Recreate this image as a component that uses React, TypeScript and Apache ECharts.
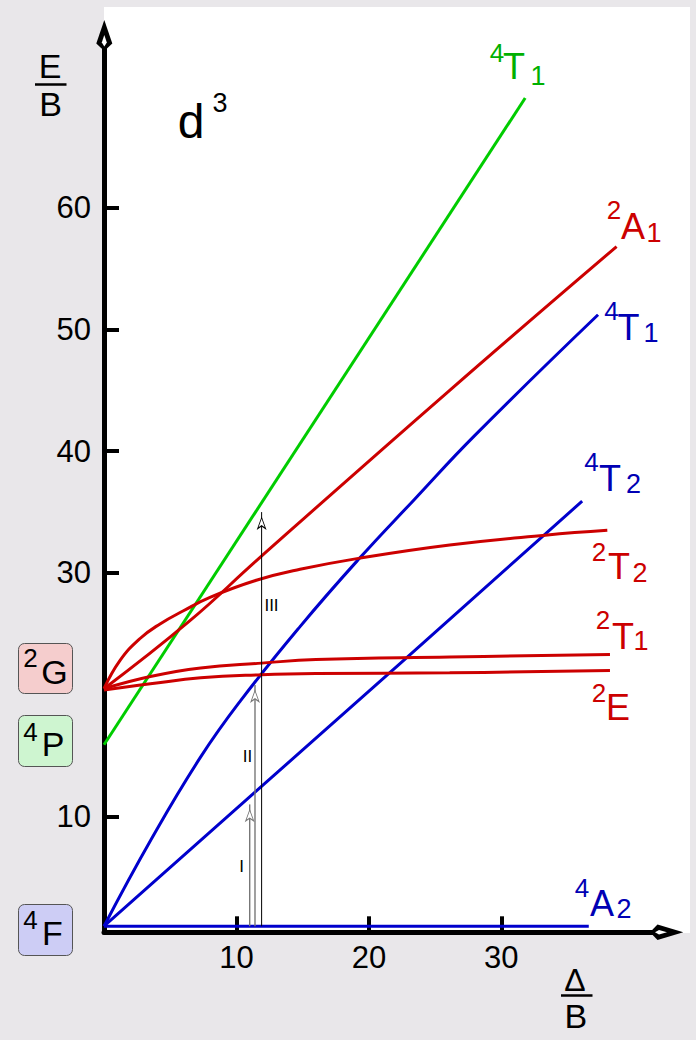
import React, { useEffect, useRef } from "react";
import * as echarts from "echarts";

// ---- axis ticks ----
const xTickValues = [10, 20, 30];
const yTickValues = [10, 30, 40, 50, 60];

// ---- Tanabe–Sugano d3 curves (Δ/B, E/B) ----
const t1P = [[0, 15.9], [31.8, 69.0]]; // 4T1 (P) green
const a1 = [[0, 20.5], [6.4, 26.0], [11.7, 31.2], [26.1, 45.0], [38.7, 56.8]]; // 2A1
const t1F = [[0, 1.0], [3.6, 8.2], [7.3, 14.9], [10.3, 19.5], [14.8, 25.6], [19.2, 31.1], [23.4, 36.0], [28.0, 41.3], [37.3, 51.2]]; // 4T1 (F)
const t2Q = [[0, 1.0], [22.9, 23.1], [36.1, 35.9]]; // 4T2
const t2D = [[0, 20.5], [1.2, 22.8], [2.7, 24.6], [4.2, 25.8], [6.0, 26.9], [8.0, 28.0], [11.5, 29.4], [14.8, 30.3], [19.2, 31.2], [26.1, 32.3], [33.3, 33.1], [38.0, 33.5]]; // 2T2
const t1D = [[0, 20.5], [3.5, 21.5], [7.3, 22.2], [11.9, 22.6], [16.0, 22.9], [26.1, 23.1], [38.2, 23.3]]; // 2T1
const eD = [[0, 20.4], [3.5, 20.9], [7.3, 21.4], [11.9, 21.65], [16.0, 21.75], [26.1, 21.8], [38.2, 22.0]]; // 2E
const a2 = [[0, 1.0], [36.6, 1.0]]; // 4A2

// ---- transitions I, II, III ----
const arrowX = [11.0, 11.4, 11.9];
const arrowTop = [11.0, 20.8, 35.0];
const arrowBase = 1.0;
const arrowNames = ["I", "II", "III"];

const X_MIN = 0, X_MAX = 41.6, Y_MIN = 0.5, Y_MAX = 73.35;

const GREEN = "#00CC00", RED = "#CC0000", BLUE = "#0000CC";
const GREEN_T = "#00B000", RED_T = "#CC0000", BLUE_T = "#0000B4";
const FONT = "Liberation Sans, Arial, Helvetica, sans-serif";

// glyph placements (pixel centres) for the term-symbol annotations
type G = [string, number, number, number, string];
const glyphs: G[] = [
  ["4", 497, 52.5, 26, GREEN_T], ["T", 514, 66, 36, GREEN_T], ["1", 538, 76, 27, GREEN_T],
  ["2", 614, 210, 26, RED_T], ["A", 633, 226.5, 36, RED_T], ["1", 654, 232.5, 27, RED_T],
  ["4", 611.5, 311, 26, BLUE_T], ["T", 628.5, 327.5, 36, BLUE_T], ["1", 651, 333, 27, BLUE_T],
  ["4", 591.5, 462, 26, BLUE_T], ["T", 610, 478.5, 36, BLUE_T], ["2", 633.5, 484, 27, BLUE_T],
  ["2", 599, 552, 26, RED_T], ["T", 619, 566.5, 36, RED_T], ["2", 640, 573, 27, RED_T],
  ["2", 603, 620, 26, RED_T], ["T", 623, 636, 36, RED_T], ["1", 641, 641, 27, RED_T],
  ["2", 599, 692.5, 26, RED_T], ["E", 618, 707.5, 36, RED_T],
  ["4", 582, 888.4, 26, BLUE_T], ["A", 602, 903, 36, BLUE_T], ["2", 624, 909, 27, BLUE_T],
  ["2", 30.5, 657.5, 26, "#000"], ["G", 54.5, 671.5, 34, "#000"],
  ["4", 30.5, 732, 26, "#000"], ["P", 53, 743.5, 34, "#000"],
  ["4", 30.5, 920, 26, "#000"], ["F", 52.5, 932.5, 34, "#000"],
  ["E", 50, 65.5, 34, "#000"], ["B", 50.5, 104, 34, "#000"],
  ["Δ", 575, 979.6, 32, "#000"], ["B", 575.8, 1016, 34, "#000"],
  ["d", 191, 121, 48, "#000"], ["3", 220, 103, 27, "#000"],
  ["I", 241.5, 866.5, 17, "#000"], ["II", 247.5, 756.5, 17, "#000"], ["III", 271.5, 605, 17, "#000"],
];

const boxes: [number, number, string][] = [
  [643, 50, "#F5CDCD"],
  [715, 51, "#CEF5D0"],
  [904, 51, "#CDCDF5"],
];

function curve(name: string, data: number[][], color: string, smooth: boolean | number) {
  return {
    type: "line",
    name,
    data,
    showSymbol: false,
    smooth,
    lineStyle: { color, width: 3 },
    itemStyle: { color },
    z: 3,
    silent: true,
  };
}

function arrowSeries(i: number) {
  const c = i < 2 ? "#777777" : "#000000";
  return {
    type: "line",
    name: arrowNames[i],
    showSymbol: true,
    lineStyle: { color: c, width: i < 2 ? 1.4 : 1 },
    z: 4,
    silent: true,
    data: [
      { value: [arrowX[i], arrowBase], symbol: "none" },
      {
        value: [arrowX[i], arrowTop[i]],
        symbol: "arrow",
        symbolSize: [6, 11],
        symbolOffset: [0, "50%"],
        itemStyle: { color: "#ffffff", borderColor: c, borderWidth: 1 },
      },
    ],
  };
}

export default function App() {
  const ref = useRef<HTMLDivElement>(null);
  useEffect(() => {
    const chart = echarts.init(ref.current!, null, { renderer: "svg" });
    const graphics: any[] = [
      { type: "rect", z: -10, shape: { x: 104, y: 7, width: 586, height: 926 }, style: { fill: "#ffffff" } },
      ...boxes.map(([y, h, fill]) => ({
        type: "rect", z: 5,
        shape: { x: 18.5, y: y + 0.5, width: 54, height: h, r: 6 },
        style: { fill, stroke: "#555555", lineWidth: 1 },
      })),
      // fraction bars
      { type: "line", z: 5, shape: { x1: 35, y1: 84.5, x2: 66.5, y2: 84.5 }, style: { stroke: "#000", lineWidth: 2.5 } },
      { type: "line", z: 5, shape: { x1: 561, y1: 995.5, x2: 592.5, y2: 995.5 }, style: { stroke: "#000", lineWidth: 2.5 } },
      // axis arrow heads
      { type: "polygon", z: 50, shape: { points: [[104.3, 20], [112.3, 43.5], [104.3, 51], [96.3, 43.5]] }, style: { fill: "#000" } },
      { type: "polygon", z: 51, shape: { points: [[104.3, 35], [106.8, 42.5], [104.3, 46.5], [101.8, 42.5]] }, style: { fill: "#fff" } },
      { type: "polygon", z: 50, shape: { points: [[683.3, 932.3], [657.5, 924.5], [650, 932.3], [657.5, 940]] }, style: { fill: "#000" } },
      { type: "polygon", z: 51, shape: { points: [[667, 932.3], [659, 930], [655, 932.3], [659, 934.6]] }, style: { fill: "#fff" } },
      ...glyphs.map(([t, x, y, s, c]) => ({
        type: "text", z: 60, x, y,
        style: { text: t, fill: c, font: `${s}px ${FONT}`, align: "center", verticalAlign: "middle" },
      })),
    ];

    chart.setOption({
      animation: false,
      backgroundColor: "#E9E7EA",
      grid: { left: 104, right: 696 - 655, top: 45, bottom: 1040 - 932.3, containLabel: false, outerBoundsMode: "none" },
      xAxis: {
        type: "value", min: X_MIN, max: X_MAX,
        axisLine: { show: true, onZero: false, lineStyle: { color: "#000", width: 5 } },
        axisTick: { show: true, inside: true, length: 16, lineStyle: { color: "#000", width: 4 }, customValues: xTickValues },
        axisLabel: { show: true, margin: 10, color: "#000", fontSize: 31, fontFamily: FONT, customValues: xTickValues },
        splitLine: { show: false },
      },
      yAxis: {
        type: "value", min: Y_MIN, max: Y_MAX,
        axisLine: { show: true, onZero: false, lineStyle: { color: "#000", width: 5 } },
        axisTick: { show: true, inside: true, length: 15, lineStyle: { color: "#000", width: 4 }, customValues: yTickValues },
        axisLabel: { show: true, margin: 13, color: "#000", fontSize: 31, fontFamily: FONT, customValues: yTickValues },
        splitLine: { show: false },
      },
      series: [
        curve("4T1(P)", t1P, GREEN, false),
        curve("2A1", a1, RED, 0.45),
        curve("4T1(F)", t1F, BLUE, 0.45),
        curve("4T2", t2Q, BLUE, false),
        curve("2T2", t2D, RED, 0.45),
        curve("2T1", t1D, RED, 0.45),
        curve("2E", eD, RED, 0.45),
        curve("4A2", a2, BLUE, false),
        arrowSeries(0),
        arrowSeries(1),
        arrowSeries(2),
      ],
      graphic: graphics,
    });
    return () => chart.dispose();
  }, []);
  return <div ref={ref} style={{ position: "fixed", left: 0, top: 0, width: 696, height: 1040 }} />;
}
